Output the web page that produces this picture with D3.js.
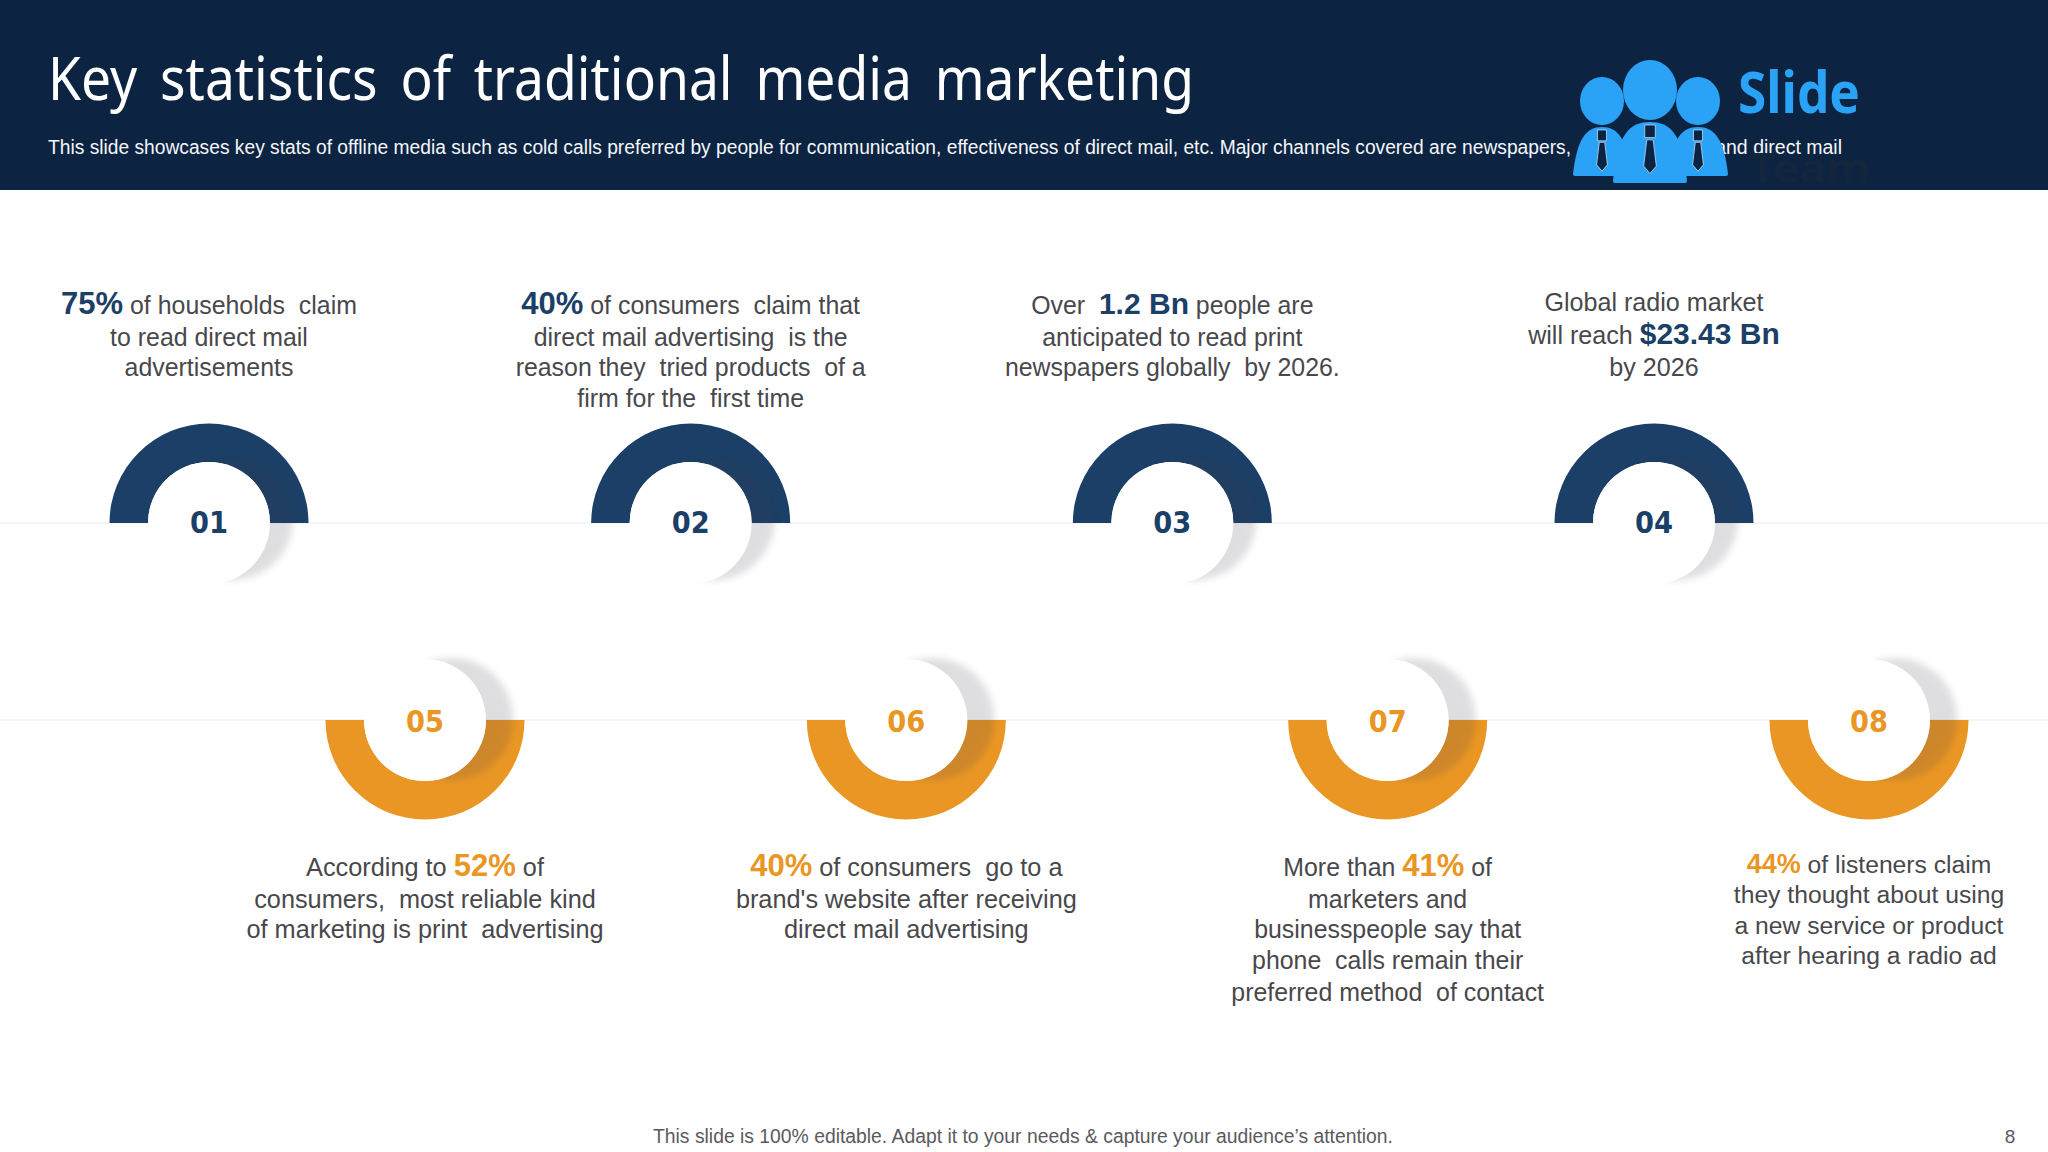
<!DOCTYPE html>
<html><head><meta charset="utf-8">
<script src="https://cdn.jsdelivr.net/npm/d3@7"></script>
<style>html,body{margin:0;padding:0;background:#fff}svg{display:block}</style>
</head><body><svg id="c" width="2048" height="1152" viewBox="0 0 2048 1152"></svg>
<script>
const titleText = "Key statistics of traditional media marketing";
const subtitleLeft = "This slide showcases key stats of offline media such as cold calls preferred by people for communication, effectiveness of direct mail, etc. Major channels covered are newspapers,";
const subtitleRight = "radio, phone and direct mail";
const footerText = "This slide is 100% editable. Adapt it to your needs & capture your audience\u2019s attention.";
const pageNumber = "8";
const topLabels = ["01","02","03","04"];
const bottomLabels = ["05","06","07","08"];
const topTexts = [
 ["*75%* of households  claim","to read direct mail","advertisements"],
 ["*40%* of consumers  claim that","direct mail advertising  is the","reason they  tried products  of a","firm for the  first time"],
 ["Over  *1.2 Bn* people are","anticipated to read print","newspapers globally  by 2026."],
 ["Global radio market","will reach *$23.43 Bn*","by 2026"]
];
const bottomTexts = [
 ["According to *52%* of","consumers,  most reliable kind","of marketing is print  advertising"],
 ["*40%* of consumers  go to a","brand's website after receiving","direct mail advertising"],
 ["More than *41%* of","marketers and","businesspeople say that","phone  calls remain their","preferred method  of contact"],
 ["*44%* of listeners claim","they thought about using","a new service or product","after hearing a radio ad"]
];
const topBaselines = [[314,346,376],[314,346,376,407],[314,346,376],[311,344,376]];
const bottomBaselines = [[876,908,938],[876,908,938],[876,908,938,969,1001],[873,903,934,964]];
const topSizes = [24.9,24.9,24.9,25.1];
const bottomSizes = [25.3,25.3,24.9,24.7];
const topEmSizes = [31,31,30,30];
const bottomEmSizes = [31,31,31,27];

const NAVY="#1b3f66", ORANGE="#ea9624", HEAD="#0c2442", BLUE="#2aa3f6", TXT="#48484c";
const svg=d3.select("#c");
const defs=svg.append("defs");
defs.append("filter").attr("id","blur").attr("x","-20%").attr("y","-20%").attr("width","140%").attr("height","140%")
  .append("feGaussianBlur").attr("stdDeviation",3.5);
defs.append("clipPath").attr("id","hdr").append("rect").attr("width",2048).attr("height",190);

const xTop=d3.scalePoint().domain(topLabels).range([209,1654]);
const xBottom=d3.scalePoint().domain(bottomLabels).range([425,1869]);
const Y_TOP=523, Y_BOT=720;

[Y_TOP,Y_BOT].forEach(y=>svg.append("line").attr("x1",0).attr("x2",2048).attr("y1",y).attr("y2",y).attr("stroke","#f5f4f8").attr("stroke-width",2));

const arc=d3.arc().innerRadius(61).outerRadius(99.5);
function ring(labels,x,y,color,start,end,sdx,sdy,numBase){
  const g=svg.append("g").selectAll("g").data(labels).join("g").attr("transform",d=>`translate(${x(d)},${y})`);
  g.append("path").attr("d",arc({startAngle:start,endAngle:end})).attr("fill",color);
  g.append("circle").attr("cx",sdx).attr("cy",sdy).attr("r",61).attr("fill","#3a3a4a").attr("opacity",.16).attr("filter","url(#blur)");
  g.append("circle").attr("cx",0).attr("cy",0).attr("r",61).attr("fill","#fff");
  g.append("text").text(d=>d).attr("text-anchor","middle").attr("y",numBase).attr("fill",color)
    .attr("font-family","'DejaVu Sans'").attr("font-weight",700).attr("font-size",30).attr("textLength",38).attr("lengthAdjust","spacingAndGlyphs");
}
ring(topLabels,xTop,Y_TOP,NAVY,-Math.PI/2,Math.PI/2,23,-4,10);
ring(bottomLabels,xBottom,Y_BOT,ORANGE,Math.PI/2,3*Math.PI/2,27,-1,12);

function rich(texts,baselines,x,labels,color,sizes,emSizes){
  texts.forEach((lines,i)=>{
    const t=svg.append("text").attr("text-anchor","middle").attr("font-family","'Liberation Sans'").attr("font-size",sizes[i]).attr("fill",TXT).style("white-space","pre");
    lines.forEach((line,j)=>{
      const l=t.append("tspan").attr("x",x(labels[i])).attr("y",baselines[i][j]);
      line.split("*").forEach((part,k)=>{
        if(!part) return;
        const s=l.append("tspan").text(part);
        if(k%2) s.attr("font-weight",700).attr("font-size",emSizes[i]).attr("fill",color);
      });
    });
  });
}
rich(topTexts,topBaselines,xTop,topLabels,NAVY,topSizes,topEmSizes);
rich(bottomTexts,bottomBaselines,xBottom,bottomLabels,ORANGE,bottomSizes,bottomEmSizes);

svg.append("text").text(footerText).attr("x",1023).attr("y",1143).attr("text-anchor","middle").attr("font-family","'Liberation Sans'").attr("font-size",19.5).attr("fill","#5a5a5e").attr("textLength",740).attr("lengthAdjust","spacingAndGlyphs");
svg.append("text").text(pageNumber).attr("x",2010).attr("y",1143).attr("text-anchor","middle").attr("font-family","'Liberation Sans'").attr("font-size",19).attr("fill","#5a5a5e");

svg.append("rect").attr("width",2048).attr("height",190).attr("fill",HEAD);
svg.append("text").text(titleText).attr("x",48).attr("y",100).attr("font-family","'Noto Sans'").attr("font-size",60).attr("fill","#fff").style("word-spacing","10px").attr("textLength",1146).attr("lengthAdjust","spacingAndGlyphs");
svg.append("text").text(subtitleLeft).attr("x",48).attr("y",154).attr("font-family","'Liberation Sans'").attr("font-size",19.5).attr("fill","#f4f6fa").attr("textLength",1523).attr("lengthAdjust","spacingAndGlyphs");
svg.append("text").text(subtitleRight).attr("x",1842).attr("y",154).attr("text-anchor","end").attr("font-family","'Liberation Sans'").attr("font-size",19.5).attr("fill","#f4f6fa");

const logo=svg.append("g");
logo.append("text").text("Team").attr("x",1750).attr("y",183).attr("font-family","'Noto Sans'").attr("font-weight",700).attr("font-size",42).attr("fill","#13263e").attr("textLength",120).attr("lengthAdjust","spacingAndGlyphs");
logo.append("text").text("Slide").attr("x",1738).attr("y",113).attr("font-family","'Noto Sans'").attr("font-weight",700).attr("font-size",58).attr("fill",BLUE).attr("textLength",122).attr("lengthAdjust","spacingAndGlyphs");
function person(cx,hy,rx,ry,top,w,bot,s){
  const g=logo.append("g");
  g.append("ellipse").attr("cx",cx).attr("cy",hy).attr("rx",rx).attr("ry",ry).attr("fill",BLUE);
  g.append("path").attr("d",`M${cx-w},${bot-2} Q${cx-w},${bot} ${cx-w+2},${bot} L${cx+w-2},${bot} Q${cx+w},${bot} ${cx+w},${bot-2} C${cx+w-4},${top+12} ${cx+w*0.55},${top} ${cx},${top} C${cx-w*0.55},${top} ${cx-w+4},${top+12} ${cx-w},${bot-2}Z`).attr("fill",BLUE);
  g.append("path").attr("d",`M${cx-5*s},${top+3} h${10*s} v${12*s} h${-10*s}Z M${cx-3*s},${top+17*s} L${cx+3*s},${top+17*s} L${cx+6*s},${top+42*s} L${cx},${top+49*s} L${cx-6*s},${top+42*s}Z`).attr("fill",HEAD).attr("stroke","#cfe8fa").attr("stroke-width",.7);
}
person(1602,101,22,24,127,29,176,0.9);
person(1698,101,22,24,127,30,176,0.9);
person(1650,90,27,30,122,37,183,1.05);
</script></body></html>
